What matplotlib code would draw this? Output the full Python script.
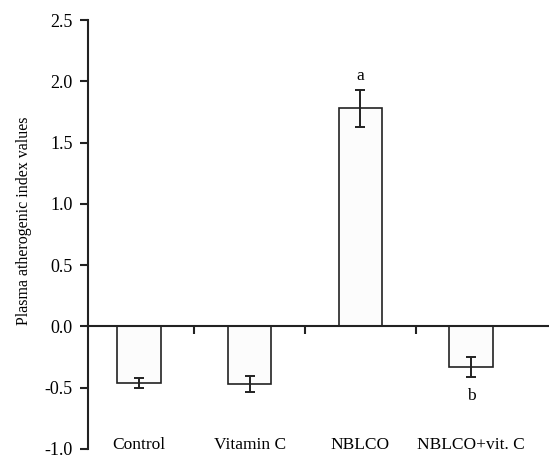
import matplotlib
matplotlib.use("Agg")
import matplotlib.pyplot as plt
from matplotlib.ticker import FixedLocator, FuncFormatter

GROUPS = ["Control", "Vitamin C", "NBLCO", "NBLCO+vit. C"]
MEANS = [-0.46, -0.47, 1.78, -0.33]
ERRORS = [0.04, 0.065, 0.15, 0.08]
LETTERS = ["", "", "a", "b"]
LETTER_Y = [None, None, 2.04, -0.57]
Y_TICKS = [-1.0, -0.5, 0.0, 0.5, 1.0, 1.5, 2.0, 2.5]

plt.rcParams["font.family"] = ["Liberation Serif", "DejaVu Serif"]

fig = plt.figure(figsize=(5.49, 4.59), dpi=100)
ax = fig.add_axes([0.1603, 0.0218, 0.8397, 0.9346])

x = list(range(len(GROUPS)))
ax.bar(x, MEANS, width=0.39, color="#fcfcfc", edgecolor="#222222", linewidth=1.2, zorder=2)
ax.errorbar(x, MEANS, yerr=ERRORS, fmt="none", ecolor="#222222",
            elinewidth=1.4, capsize=3.5, capthick=1.4, zorder=3)

# significance letters above/below the bars
for xi, letter, ly in zip(x, LETTERS, LETTER_Y):
    if letter:
        ax.text(xi, ly, letter, ha="center", va="center", fontsize=12.5)

# group names sit along the bottom of the plot, not on the zero line
for xi, name in zip(x, GROUPS):
    ax.text(xi, -1.0, name, ha="center", va="baseline", fontsize=12.5, clip_on=False)

ax.set_xlim(-0.46, 3.705)
ax.set_ylim(-1.0, 2.5)

ax.spines["top"].set_visible(False)
ax.spines["right"].set_visible(False)
ax.spines["bottom"].set_position(("data", 0))
for side in ["left", "bottom"]:
    ax.spines[side].set_linewidth(1.5)
    ax.spines[side].set_color("#222222")

ax.set_yticks(Y_TICKS)
ax.yaxis.set_major_formatter(FuncFormatter(lambda v, p: f"{v:.1f}"))
ax.tick_params(axis="y", direction="out", length=6, width=1.5, color="#222222",
               labelsize=13, pad=5)

ax.xaxis.set_major_locator(FixedLocator([]))
ax.xaxis.set_minor_locator(FixedLocator([0.5, 1.5, 2.5]))
ax.tick_params(axis="x", which="minor", direction="out", length=6, width=1.5,
               color="#222222", labelbottom=False)

fig.text(0.043, 0.52, "Plasma atherogenic index values", rotation=90,
         ha="center", va="center", fontsize=11.5)

fig.savefig("out.png", dpi=100)
